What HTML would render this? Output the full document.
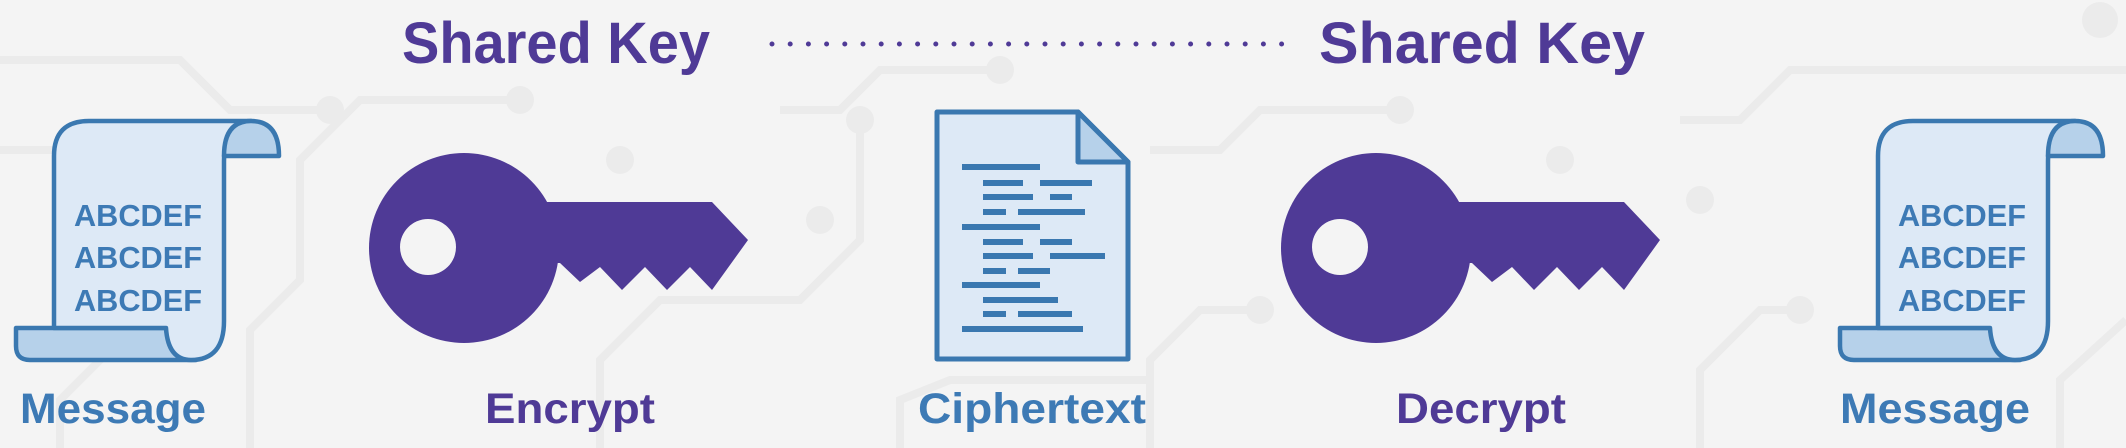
<!DOCTYPE html>
<html><head><meta charset="utf-8"><style>
html,body{margin:0;padding:0;background:#f4f4f4;}
svg{display:block}
text{font-family:"Liberation Sans",sans-serif;font-weight:bold}
</style></head><body>
<svg width="2126" height="448" viewBox="0 0 2126 448" xmlns="http://www.w3.org/2000/svg">
<rect width="2126" height="448" fill="#f4f4f4"/>
<g fill="none" stroke="#ebebeb" stroke-width="8">
<polyline points="0,60 180,60 230,110 330,110"/>
<polyline points="0,150 120,150 160,190 160,300 60,400 60,448"/>
<polyline points="250,448 250,330 300,280 300,160 360,100 520,100"/>
<polyline points="600,448 600,360 660,300 800,300 860,240 860,120"/>
<polyline points="780,110 840,110 880,70 1000,70"/>
<polyline points="1150,448 1150,360 1200,310 1260,310"/>
<polyline points="1150,150 1220,150 1260,110 1400,110"/>
<polyline points="1700,448 1700,370 1760,310 1800,310"/>
<polyline points="1680,120 1740,120 1790,70 2126,70"/>
<polyline points="2060,448 2060,380 2126,320"/>
<polyline points="900,448 900,400 950,380 1150,380"/>
</g>
<g fill="#ebebeb">
<circle cx="330" cy="110" r="14"/><circle cx="520" cy="100" r="14"/><circle cx="1000" cy="70" r="14"/>
<circle cx="1260" cy="310" r="14"/><circle cx="1400" cy="110" r="14"/><circle cx="1800" cy="310" r="14"/>
<circle cx="860" cy="120" r="14"/><circle cx="620" cy="160" r="14"/><circle cx="1560" cy="160" r="14"/>
<circle cx="2100" cy="20" r="18"/><circle cx="1700" cy="200" r="14"/><circle cx="820" cy="220" r="14"/>
</g>

<text x="402" y="63" font-size="58" fill="#4f3a96" textLength="308" lengthAdjust="spacingAndGlyphs">Shared Key</text>
<text x="1319" y="63" font-size="58" fill="#4f3a96" textLength="326" lengthAdjust="spacingAndGlyphs">Shared Key</text>
<line x1="772" y1="44" x2="1282" y2="44" stroke="#4f3a96" stroke-width="5" stroke-linecap="round" stroke-dasharray="0 18.2"/>

<defs>
<g id="scroll" stroke="#3a78b0" stroke-width="4.5" stroke-linejoin="round">
<path d="M0,207 H150 Q154,239 180,239 H14 Q0,239 0,225 Z" fill="#b6d1ea"/>
<path d="M38,207 V35 Q38,0 73,0 H235 Q208,3 208,40 V200 Q208,239 175,239 Q152,239 150,207 Z" fill="#dde9f6"/>
<path d="M235,0 Q263,0 263,35 H208 Q208,0 235,0 Z" fill="#b6d1ea"/>
<g font-size="31" fill="#3d7ab5" stroke="none" font-family="Liberation Sans" font-weight="bold">
<text x="58" y="105" textLength="128" lengthAdjust="spacingAndGlyphs">ABCDEF</text>
<text x="58" y="147" textLength="128" lengthAdjust="spacingAndGlyphs">ABCDEF</text>
<text x="58" y="190" textLength="128" lengthAdjust="spacingAndGlyphs">ABCDEF</text>
</g>
</g>
<g id="key">
<circle cx="464" cy="248" r="95" fill="#4f3a96"/>
<path d="M530,202 H712 L748,240 L712,290 L690,267 L667,290 L645,267 L622,290 L600,267 L580,282 L560,263 H530 Z" fill="#4f3a96"/>
<circle cx="428" cy="247" r="28" fill="#f4f4f4"/>
</g>
</defs>
<use href="#scroll" x="16" y="121"/>
<use href="#scroll" x="1840" y="121"/>
<use href="#key" x="0" y="0"/>
<use href="#key" x="912" y="0"/>

<path d="M937,112 H1078 L1128,162 V359 H937 Z" fill="#dde9f6" stroke="#3a78b0" stroke-width="5" stroke-linejoin="round"/>
<path d="M1078,112 V162 H1128 Z" fill="#b6d1ea" stroke="#3a78b0" stroke-width="5" stroke-linejoin="round"/>
<g fill="#3a78b0">
<rect x="962" y="164" width="78" height="6"/>
<rect x="983" y="180" width="40" height="6"/><rect x="1040" y="180" width="52" height="6"/>
<rect x="983" y="194" width="50" height="6"/><rect x="1050" y="194" width="22" height="6"/>
<rect x="983" y="209" width="23" height="6"/><rect x="1018" y="209" width="67" height="6"/>
<rect x="962" y="224" width="78" height="6"/>
<rect x="983" y="239" width="40" height="6"/><rect x="1040" y="239" width="32" height="6"/>
<rect x="983" y="253" width="50" height="6"/><rect x="1050" y="253" width="55" height="6"/>
<rect x="983" y="268" width="23" height="6"/><rect x="1018" y="268" width="32" height="6"/>
<rect x="962" y="282" width="78" height="6"/>
<rect x="983" y="297" width="75" height="6"/>
<rect x="983" y="311" width="23" height="6"/><rect x="1018" y="311" width="54" height="6"/>
<rect x="962" y="326" width="121" height="6"/>
</g>

<g font-size="43" text-anchor="middle">
<text x="113" y="423" fill="#3d7ab5" textLength="186" lengthAdjust="spacingAndGlyphs">Message</text>
<text x="570" y="423" fill="#4f3a96" textLength="170" lengthAdjust="spacingAndGlyphs">Encrypt</text>
<text x="1032" y="423" fill="#3d7ab5" textLength="228" lengthAdjust="spacingAndGlyphs">Ciphertext</text>
<text x="1481" y="423" fill="#4f3a96" textLength="170" lengthAdjust="spacingAndGlyphs">Decrypt</text>
<text x="1935" y="423" fill="#3d7ab5" textLength="190" lengthAdjust="spacingAndGlyphs">Message</text>
</g>
</svg>
</body></html>
